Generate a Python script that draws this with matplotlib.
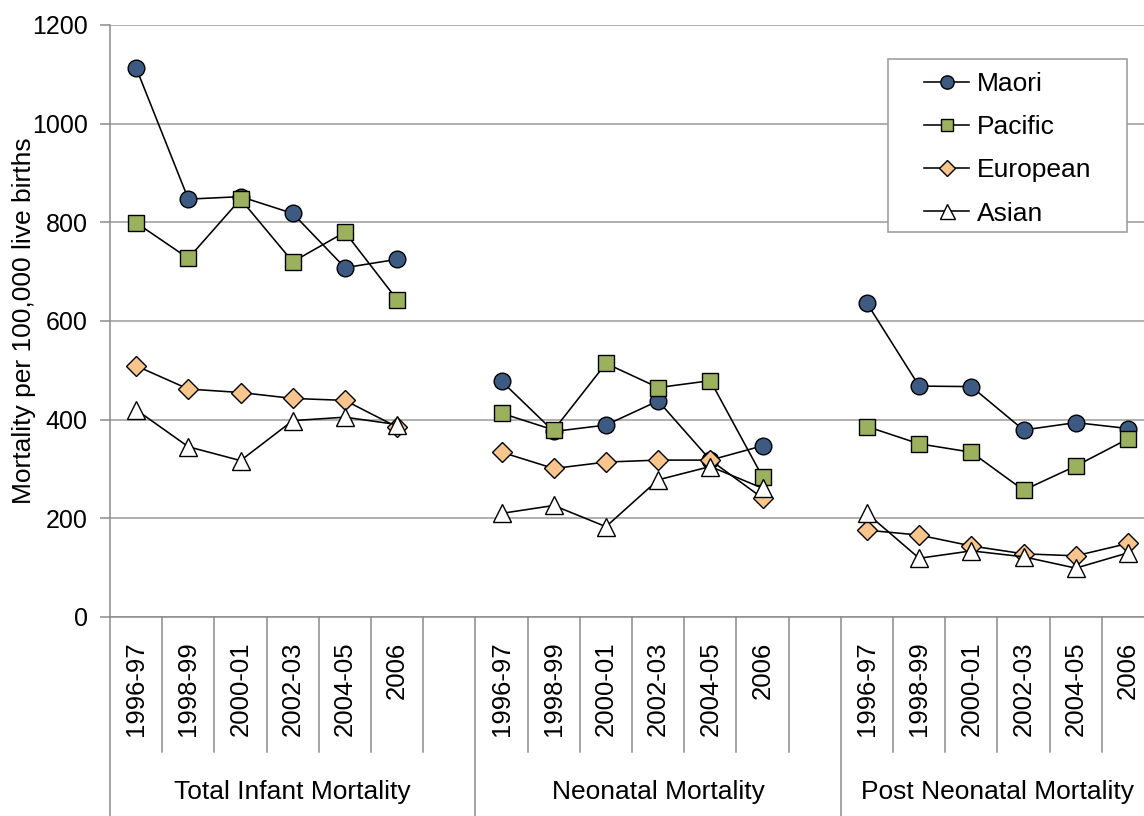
import numpy as np
import matplotlib
matplotlib.use("Agg")
import matplotlib.pyplot as plt
from matplotlib.patches import Rectangle
from matplotlib.transforms import blended_transform_factory

plt.rcParams['font.family'] = ['Liberation Sans', 'DejaVu Sans']

groups = ['Total Infant Mortality', 'Neonatal Mortality', 'Post Neonatal Mortality']
periods = ['1996-97', '1998-99', '2000-01', '2002-03', '2004-05', '2006']

# values per ethnicity, one list per group (total, neonatal, post neonatal)
maori = [[1113, 847, 852, 818, 708, 725],
         [478, 376, 389, 438, 318, 347],
         [636, 468, 467, 379, 394, 382]]
pacific = [[799, 727, 847, 720, 780, 643],
           [413, 379, 514, 465, 479, 284],
           [386, 351, 334, 257, 306, 361]]
european = [[509, 462, 455, 443, 439, 385],
            [334, 301, 314, 318, 318, 241],
            [176, 166, 144, 128, 124, 149]]
asian = [[420, 345, 317, 398, 405, 390],
         [210, 226, 183, 278, 305, 261],
         [210, 119, 134, 122, 99, 130]]

series = [('Maori', maori, 'o', '#3C5A82', 12),
          ('Pacific', pacific, 's', '#9BB15E', 11.5),
          ('European', european, 'D', '#F8C68C', 10),
          ('Asian', asian, '^', 'white', 13.5)]

n_per = len(periods)
slot = n_per + 1  # one empty category between groups
n_slots = slot * len(groups) - 1

def spread(vals):
    # put the group lists on the category axis, with a gap slot between groups
    out = np.full(n_slots, np.nan)
    for g, v in enumerate(vals):
        out[g * slot: g * slot + n_per] = v
    return out

fig = plt.figure(figsize=(11.44, 8.16), dpi=100)
ax = fig.add_axes([0.0962, 0.2439, 0.9126, 0.7255])

x = np.arange(n_slots)
for name, vals, mk, col, ms in series:
    ax.plot(x, spread(vals), color='black', lw=1.15, marker=mk, ms=ms,
            mfc=col, mec='black', mew=1.0, label=name)

ax.set_xlim(-0.5, n_slots - 0.5)
ax.set_ylim(0, 1200)
ax.set_yticks(range(0, 1201, 200))
ax.tick_params(axis='y', labelsize=18, length=7, width=1.1, color='#8C8C8C', pad=9)
ax.set_xticks([])
ax.grid(axis='y', color='#9A9A9A', lw=1.1)
ax.set_axisbelow(True)
for s in ['top', 'right']:
    ax.spines[s].set_visible(False)
for s in ['left', 'bottom']:
    ax.spines[s].set_color('#8C8C8C')
    ax.spines[s].set_linewidth(1.1)

ax.set_ylabel('Mortality per 100,000 live births', fontsize=19)
ax.yaxis.set_label_coords(-0.0709, 0.5)

# two-level category axis
tr = blended_transform_factory(ax.transData, ax.transAxes)
for k in range(n_slots + 1):
    bottom = -0.34 if k % slot == 0 else -0.2275
    ax.plot([k - 0.5, k - 0.5], [0, bottom], transform=tr, color='#8C8C8C',
            lw=1.1, clip_on=False)
for g, gname in enumerate(groups):
    for i, p in enumerate(periods):
        ax.text(g * slot + i, -0.0417, p, transform=tr, rotation=90,
                ha='center', va='top', fontsize=18.5)
    width = slot if g < len(groups) - 1 else n_per
    ax.text(g * slot + (width - 1) / 2, -0.2956, gname, transform=tr,
            ha='center', va='center', fontsize=19)

# legend with Excel-like box
ax.add_patch(Rectangle((0.745, 0.650), 0.229, 0.2926, transform=ax.transAxes,
                       facecolor='white', edgecolor='#A0A0A0', lw=1.2, zorder=5))
leg = ax.legend(loc='upper left', bbox_to_anchor=(0.7797, 0.921), frameon=False,
                fontsize=19, borderpad=0, borderaxespad=0, handlelength=1.7,
                handletextpad=0.3, labelspacing=0.73, markerscale=0.8)
leg.set_zorder(6)

fig.savefig('out.png', dpi=100)
